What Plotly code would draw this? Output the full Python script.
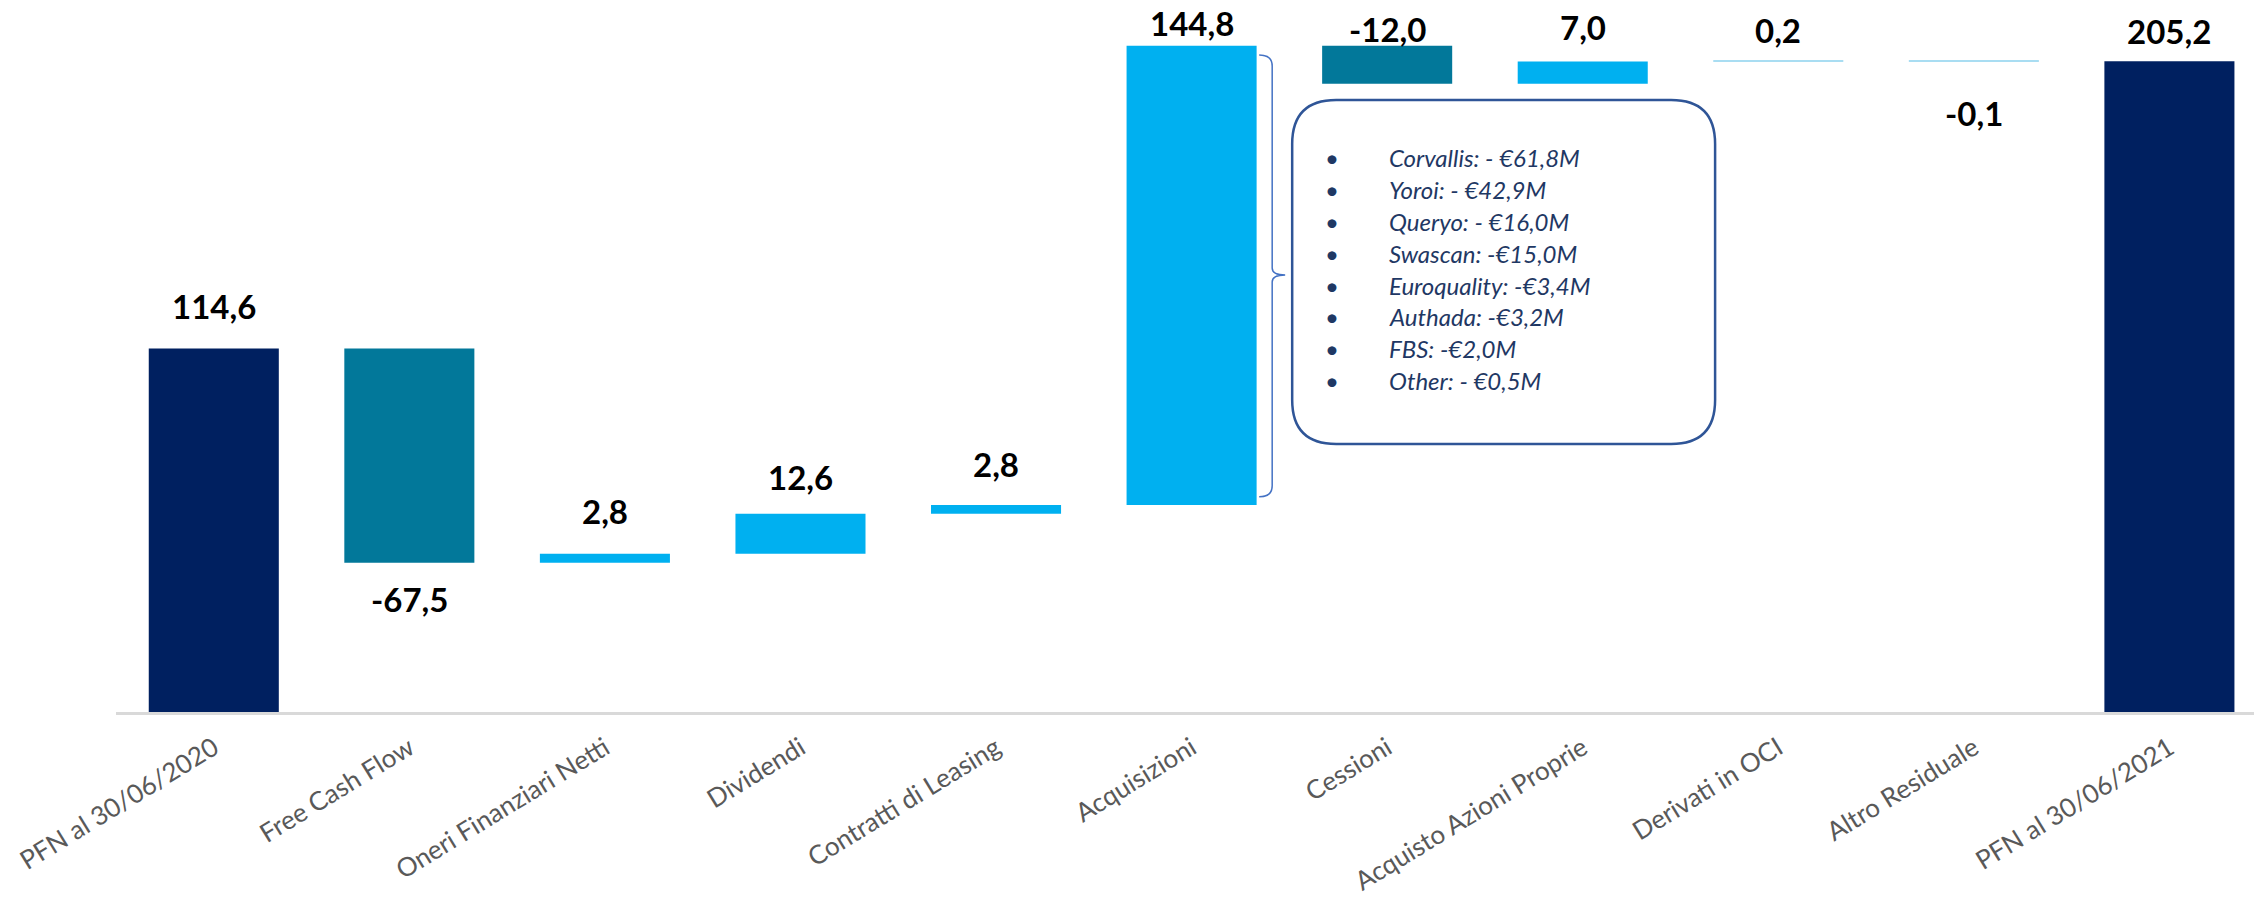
import numpy as np
import plotly.graph_objects as go

# ---------------- data ----------------
categories = ["PFN al 30/06/2020", "Free Cash Flow", "Oneri Finanziari Netti", "Dividendi",
              "Contratti di Leasing", "Acquisizioni", "Cessioni", "Acquisto Azioni Proprie",
              "Derivati in OCI", "Altro Residuale", "PFN al 30/06/2021"]
values = [114.6, -67.5, 2.8, 12.6, 2.8, 144.8, -12.0, 7.0, 0.2, -0.1, 205.2]
measures = ["absolute", "relative", "relative", "relative", "relative", "relative",
            "relative", "relative", "relative", "relative", "total"]

acq_items = ["Corvallis: - €61,8M", "Yoroi: - €42,9M", "Queryo: - €16,0M", "Swascan: -€15,0M",
             "Euroquality: -€3,4M", "Authada: -€3,2M", "FBS: -€2,0M", "Other: - €0,5M"]

# ---------------- styles ----------------
NAVY, TEAL, LIGHT, PALE = "#002060", "#02789A", "#00B0F0", "#A9DDF2"
bar_colors = [NAVY, TEAL, LIGHT, LIGHT, LIGHT, LIGHT, TEAL, LIGHT, PALE, PALE, NAVY]
# label offset in px: >0 above bar top, <0 below bar bottom
label_shift = [43, -36, 43, 37, 41, 23, 17, 35, 31, -52, 30]

W, H = 2254, 898
PLOT_L, PLOT_T, PLOT_H = 115.6, 0.0, 712.2
PLOT_W = W - PLOT_L
PX_PER_UNIT = 3.172

# ---------------- waterfall geometry ----------------
bases, heights = [], []
running = 0.0
for m, v in zip(measures, values):
    if m == "absolute":
        bases.append(0.0); heights.append(v); running = v
    elif m == "total":
        bases.append(0.0); heights.append(running)
    else:
        bases.append(running); heights.append(v); running += v
bases = np.array(bases); heights = np.array(heights)
tops = np.maximum(bases, bases + heights)
bots = np.minimum(bases, bases + heights)

fig = go.Figure()
fig.add_trace(go.Bar(x=categories, y=heights, base=bases, width=0.665,
                     marker=dict(color=bar_colors, line=dict(width=0)),
                     hoverinfo="skip", showlegend=False))

def fmt(v):
    return f"{v:.1f}".replace(".", ",")

for i, (c, v) in enumerate(zip(categories, values)):
    s = label_shift[i]
    fig.add_annotation(x=c, y=(tops[i] if s > 0 else bots[i]), xref="x", yref="y",
                       text=f"<b>{fmt(v)}</b>", showarrow=False, yanchor="middle",
                       yshift=s, font=dict(family="Lato", size=33, color="#000000"))

# ---------------- decorations (pixel -> paper) ----------------
def px(x):
    return (x - PLOT_L) / PLOT_W

def py(y):
    return (PLOT_T + PLOT_H - y) / PLOT_H

def rounded_rect(x0, y0, x1, y1, r):
    pts = [
        f"M {px(x0 + r)},{py(y0)}",
        f"L {px(x1 - r)},{py(y0)}",
        f"Q {px(x1)},{py(y0)} {px(x1)},{py(y0 + r)}",
        f"L {px(x1)},{py(y1 - r)}",
        f"Q {px(x1)},{py(y1)} {px(x1 - r)},{py(y1)}",
        f"L {px(x0 + r)},{py(y1)}",
        f"Q {px(x0)},{py(y1)} {px(x0)},{py(y1 - r)}",
        f"L {px(x0)},{py(y0 + r)}",
        f"Q {px(x0)},{py(y0)} {px(x0 + r)},{py(y0)}",
        "Z",
    ]
    return " ".join(pts)

fig.add_shape(type="path", xref="paper", yref="paper",
              path=rounded_rect(1292, 100, 1715, 444, 44),
              line=dict(color="#2F5597", width=2.5), fillcolor="rgba(255,255,255,0)")

# curly bracket next to Acquisizioni
bx, bl, bt, bm, bb, tip = 1272, 1259, 55, 275, 497, 1285
brace = " ".join([
    f"M {px(bl)},{py(bt)}",
    f"Q {px(bx)},{py(bt)} {px(bx)},{py(bt + 11)}",
    f"L {px(bx)},{py(bm - 7)}",
    f"Q {px(bx)},{py(bm)} {px(tip)},{py(bm)}",
    f"Q {px(bx)},{py(bm)} {px(bx)},{py(bm + 7)}",
    f"L {px(bx)},{py(bb - 11)}",
    f"Q {px(bx)},{py(bb)} {px(bl)},{py(bb)}",
])
fig.add_shape(type="path", xref="paper", yref="paper", path=brace,
              line=dict(color="#4472C4", width=1.5))

row_y0, row_step = 157.5, 31.9
for k, item in enumerate(acq_items):
    yy = py(row_y0 + k * row_step)
    fig.add_annotation(x=px(1332), y=yy, xref="paper", yref="paper", text="•",
                       showarrow=False, xanchor="center", yanchor="middle",
                       font=dict(family="Lato", size=24, color="#1F3864"))
    fig.add_annotation(x=px(1387), y=yy, xref="paper", yref="paper", text=f"<i>{item}</i>",
                       showarrow=False, xanchor="left", yanchor="middle",
                       font=dict(family="Lato", size=24, color="#1F3864"))

fig.update_layout(
    width=W, height=H, autosize=False,
    margin=dict(l=PLOT_L, r=0, t=PLOT_T, b=H - PLOT_H - PLOT_T, pad=0, autoexpand=False),
    paper_bgcolor="white", plot_bgcolor="white",
    bargap=0.335,
    xaxis=dict(type="category", range=[-0.5, -0.5 + PLOT_W / 195.6],
               showline=True, linecolor="#D9D9D9", linewidth=2.5, automargin=False,
               showgrid=False, zeroline=False, ticks="", tickangle=-31.5,
               ticklabelstandoff=8,
               tickfont=dict(family="Lato", size=26, color="#595959")),
    yaxis=dict(range=[0, PLOT_H / PX_PER_UNIT], visible=False, automargin=False),
)

fig.write_html("out.html", config={"displayModeBar": False},
               post_script="document.body.style.margin='0';document.body.style.overflow='hidden';")
